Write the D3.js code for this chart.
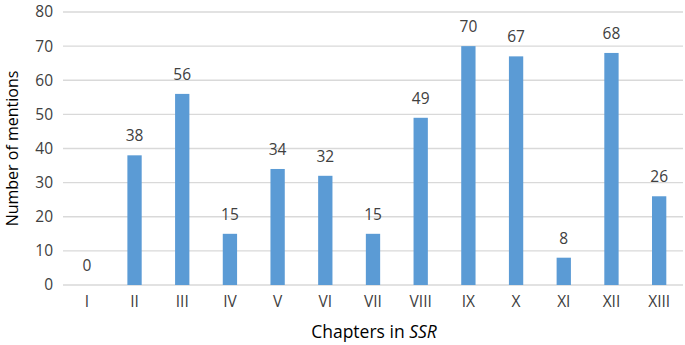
<!DOCTYPE html>
<html><head><meta charset="utf-8">
<script src="https://cdn.jsdelivr.net/npm/d3@7"></script>
<style>
body{margin:0;background:#fff;}
text{font-family:"Open Sans","Noto Sans",sans-serif;}
</style></head>
<body>
<svg id="c" width="685" height="345"></svg>
<script>
const categories = ["I","II","III","IV","V","VI","VII","VIII","IX","X","XI","XII","XIII"];
const mentions = [0,38,56,15,34,32,15,49,70,67,8,68,26];
const yTicks = [0,10,20,30,40,50,60,70,80];

(function(){
const svg = d3.select("#c");
const mL = 63, mR = 683, mT = 12, mB = 285;
const x = d3.scaleBand().domain(categories).range([mL, mR]).paddingInner(0.7).paddingOuter(0.35);
const y = d3.scaleLinear().domain([0, 80]).range([mB, mT]);

// gridlines
svg.append("g").selectAll("line").data(yTicks).join("line")
  .attr("x1", mL).attr("x2", mR)
  .attr("y1", d => y(d)).attr("y2", d => y(d))
  .attr("stroke", "#d9d9d9").attr("stroke-width", 1.3);

// y axis labels
const ya = svg.append("g").attr("transform", `translate(${mL},0)`)
  .call(d3.axisLeft(y).tickValues(yTicks).tickSize(0).tickPadding(10));
ya.select(".domain").remove();
ya.selectAll("text").attr("font-size", 15.5).attr("fill", "#404040")
  .style("font-family", '"Open Sans","Noto Sans",sans-serif');

// x axis labels
const xa = svg.append("g").attr("transform", `translate(0,${mB})`)
  .call(d3.axisBottom(x).tickSize(0).tickPadding(11));
xa.select(".domain").remove();
xa.selectAll("text").attr("font-size", 15.5).attr("fill", "#404040")
  .style("font-family", '"Open Sans","Noto Sans",sans-serif');

// bars
svg.append("g").selectAll("rect").data(categories).join("rect")
  .attr("x", d => x(d))
  .attr("width", x.bandwidth())
  .attr("y", (d, i) => y(mentions[i]))
  .attr("height", (d, i) => y(0) - y(mentions[i]))
  .attr("fill", "#5b9bd5");

// value labels
svg.append("g").selectAll("text").data(categories).join("text")
  .attr("x", d => x(d) + x.bandwidth() / 2)
  .attr("y", (d, i) => y(mentions[i]) - 14)
  .attr("text-anchor", "middle")
  .attr("font-size", 15.5).attr("fill", "#404040")
  .text((d, i) => mentions[i]);

// axis titles
svg.append("text")
  .attr("transform", `translate(18,${(mT + mB) / 2}) rotate(-90)`)
  .attr("text-anchor", "middle").attr("font-size", 16).attr("fill", "#000")
  .text("Number of mentions");

const xt = svg.append("text")
  .attr("x", 374).attr("y", 338)
  .attr("text-anchor", "middle").attr("font-size", 17.5).attr("fill", "#000");
xt.append("tspan").text("Chapters in ");
xt.append("tspan").attr("font-style", "italic").text("SSR");
})();
</script>
</body></html>
